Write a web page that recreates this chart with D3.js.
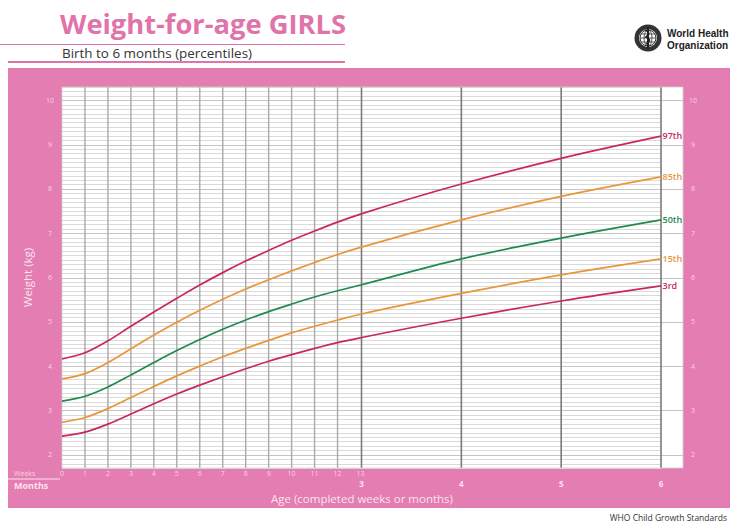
<!DOCTYPE html>
<html>
<head>
<meta charset="utf-8">
<script src="https://cdn.jsdelivr.net/npm/d3@7"></script>
<style>
  html, body { margin: 0; padding: 0; background: #fff; }
  svg { display: block; }
</style>
</head>
<body>
<svg id="chart" width="730" height="524"></svg>
<script>
// ---------------- DATA ----------------
// ages in months (weekly 0..13 weeks, then months 4, 5, 6)
const ages = [0, 0.23, 0.46, 0.69, 0.92, 1.15, 1.38, 1.61, 1.84, 2.07, 2.30, 2.53, 2.76, 2.99, 4, 5, 6];
const p97 = [4.16, 4.30, 4.57, 4.90, 5.22, 5.53, 5.83, 6.11, 6.37, 6.61, 6.84, 7.05, 7.25, 7.43, 8.11, 8.69, 9.19];
const p85 = [3.71, 3.83, 4.08, 4.39, 4.70, 4.99, 5.26, 5.51, 5.74, 5.95, 6.15, 6.34, 6.52, 6.68, 7.30, 7.83, 8.27];
const p50 = [3.21, 3.32, 3.53, 3.80, 4.08, 4.35, 4.60, 4.83, 5.04, 5.23, 5.40, 5.56, 5.70, 5.83, 6.42, 6.89, 7.30];
const p15 = [2.73, 2.84, 3.04, 3.29, 3.54, 3.78, 4.00, 4.21, 4.40, 4.58, 4.75, 4.90, 5.04, 5.17, 5.64, 6.06, 6.42];
const p3  = [2.42, 2.51, 2.69, 2.92, 3.15, 3.37, 3.57, 3.76, 3.94, 4.11, 4.26, 4.40, 4.53, 4.64, 5.08, 5.47, 5.81];
const seriesNames = ["97th", "85th", "50th", "15th", "3rd"];
const weekTicks = [0, 1, 2, 3, 4, 5, 6, 7, 8, 9, 10, 11, 12, 13];
const monthTicks = [3, 4, 5, 6];
const weightTicks = [2, 3, 4, 5, 6, 7, 8, 9, 10];

// ---------------- STYLE ----------------
const PINK = "#e47db1";
const TITLE_PINK = "#e173ab";
const seriesColors = {"97th": "#c8285f", "85th": "#e8963a", "50th": "#1f8a50", "15th": "#e8963a", "3rd": "#c8285f"};
const seriesValues = {"97th": p97, "85th": p85, "50th": p50, "15th": p15, "3rd": p3};

const svg = d3.select("#chart");

const daysPerMonth = 30.4375;
const x = d3.scaleLinear().domain([0, 6.22]).range([62, 683]);
const y = d3.scaleLinear().domain([1.7, 10.3]).range([468, 87]);
const wk = w => w * 7 / daysPerMonth;

// ---------- header ----------
svg.append("text").attr("x", 60).attr("y", 34)
  .attr("font-family", "Open Sans, sans-serif").attr("font-weight", 700)
  .attr("font-size", 26).attr("fill", TITLE_PINK)
  .attr("textLength", 286).attr("lengthAdjust", "spacingAndGlyphs")
  .text("Weight-for-age GIRLS");
svg.append("line").attr("x1", 0).attr("x2", 345).attr("y1", 44.5).attr("y2", 44.5)
  .attr("stroke", TITLE_PINK).attr("stroke-width", 1);
svg.append("text").attr("x", 62).attr("y", 58)
  .attr("font-family", "Open Sans, sans-serif").attr("font-size", 12.5).attr("fill", "#333")
  .attr("textLength", 190).attr("lengthAdjust", "spacingAndGlyphs")
  .text("Birth to 6 months (percentiles)");
svg.append("line").attr("x1", 8).attr("x2", 345).attr("y1", 62).attr("y2", 62)
  .attr("stroke", TITLE_PINK).attr("stroke-width", 2);

// WHO emblem
const logo = svg.append("g").attr("transform", "translate(648,38)");
logo.append("circle").attr("r", 13.5).attr("fill", "#333");
logo.append("circle").attr("r", 9).attr("fill", "#fff");
logo.append("circle").attr("r", 8).attr("fill", "none").attr("stroke", "#333").attr("stroke-width", 1);
logo.append("ellipse").attr("rx", 4).attr("ry", 8).attr("fill", "none").attr("stroke", "#333").attr("stroke-width", 0.8);
logo.append("line").attr("x1", -8).attr("x2", 8).attr("stroke", "#333").attr("stroke-width", 0.8);
logo.append("line").attr("x1", -7).attr("x2", 7).attr("y1", -4).attr("y2", -4).attr("stroke", "#333").attr("stroke-width", 0.8);
logo.append("line").attr("x1", -7).attr("x2", 7).attr("y1", 4).attr("y2", 4).attr("stroke", "#333").attr("stroke-width", 0.8);
logo.append("line").attr("y1", -11).attr("y2", 11).attr("stroke", "#222").attr("stroke-width", 2);
logo.append("path").attr("d", "M-3,-8 Q4,-5 -2,-1 Q5,2 -2,6").attr("fill", "none").attr("stroke", "#222").attr("stroke-width", 1.6);
svg.append("text").attr("x", 667).attr("y", 37)
  .attr("font-family", "Liberation Sans, Arial, sans-serif").attr("font-weight", 700)
  .attr("font-size", 10).attr("fill", "#222").text("World Health");
svg.append("text").attr("x", 667).attr("y", 48.5)
  .attr("font-family", "Liberation Sans, Arial, sans-serif").attr("font-weight", 700)
  .attr("font-size", 10).attr("fill", "#222").text("Organization");

// ---------- pink panel ----------
svg.append("rect").attr("x", 8).attr("y", 68).attr("width", 722).attr("height", 440).attr("fill", PINK);

// white plot area
svg.append("rect").attr("x", x(0)).attr("y", y(10.3)).attr("width", x(6.22) - x(0))
  .attr("height", y(1.7) - y(10.3)).attr("fill", "#fff");

// minor horizontal grid every 0.1 kg
const minor = d3.range(17, 104).map(v => v / 10).filter(v => Math.abs(v - Math.round(v)) > 1e-6);
svg.append("g").selectAll("line").data(minor).join("line")
  .attr("x1", x(0)).attr("x2", x(6))
  .attr("y1", d => Math.round(y(d)) + 0.5).attr("y2", d => Math.round(y(d)) + 0.5)
  .attr("stroke", "#dadada").attr("stroke-width", 1);
// major horizontal grid
svg.append("g").selectAll("line").data(weightTicks).join("line")
  .attr("x1", x(0)).attr("x2", x(6.22))
  .attr("y1", d => Math.round(y(d)) + 0.5).attr("y2", d => Math.round(y(d)) + 0.5)
  .attr("stroke", "#c4c4c4").attr("stroke-width", 1);

// vertical week lines
svg.append("g").selectAll("line").data(weekTicks.filter(w => w > 0 && w < 13)).join("line")
  .attr("x1", d => x(wk(d))).attr("x2", d => x(wk(d)))
  .attr("y1", y(10.3)).attr("y2", y(1.7))
  .attr("stroke", "#a9a9a9").attr("stroke-width", 1.4);
// vertical month lines
svg.append("g").selectAll("line").data(monthTicks).join("line")
  .attr("x1", d => x(d)).attr("x2", d => x(d))
  .attr("y1", y(10.3)).attr("y2", y(1.7))
  .attr("stroke", "#7a7a7a").attr("stroke-width", 1.6);

// plot outline
svg.append("rect").attr("x", x(0)).attr("y", y(10.3)).attr("width", x(6.22) - x(0))
  .attr("height", y(1.7) - y(10.3)).attr("fill", "none").attr("stroke", "#cfcfcf").attr("stroke-width", 0.8);

// ---------- curves ----------
const line = d3.line().x(d => x(d[0])).y(d => y(d[1])).curve(d3.curveCatmullRom.alpha(0.5));
seriesNames.forEach(name => {
  const vals = seriesValues[name];
  const pts = ages.map((a, i) => [a, vals[i]]);
  svg.append("path").datum(pts).attr("d", line)
    .attr("fill", "none").attr("stroke", seriesColors[name]).attr("stroke-width", 1.7);
  svg.append("text").attr("x", x(6) + 1.5).attr("y", y(vals[vals.length - 1]) + 3)
    .attr("font-family", "Open Sans, sans-serif").attr("font-weight", 600)
    .attr("font-size", 9).attr("fill", seriesColors[name])
    .text(name);
});

// ---------- axes labels ----------
const tickFill = "#f8d3e6";
svg.append("g").selectAll("text").data(weightTicks).join("text")
  .attr("x", 50).attr("y", d => y(d) + 2.5).attr("text-anchor", "middle")
  .attr("font-family", "Open Sans, sans-serif").attr("font-size", 7).attr("fill", tickFill)
  .text(d => d);
svg.append("g").selectAll("text").data(weightTicks).join("text")
  .attr("x", 693).attr("y", d => y(d) + 2.5).attr("text-anchor", "middle")
  .attr("font-family", "Open Sans, sans-serif").attr("font-size", 7).attr("fill", tickFill)
  .text(d => d);

svg.append("g").selectAll("text").data(weekTicks).join("text")
  .attr("x", d => x(wk(d))).attr("y", 476).attr("text-anchor", "middle")
  .attr("font-family", "Open Sans, sans-serif").attr("font-size", 7).attr("fill", tickFill)
  .text(d => d);
svg.append("g").selectAll("text").data(monthTicks).join("text")
  .attr("x", d => x(d)).attr("y", 487).attr("text-anchor", "middle")
  .attr("font-family", "Open Sans, sans-serif").attr("font-weight", 700).attr("font-size", 8).attr("fill", "#fbe3ef")
  .text(d => d);

svg.append("text").attr("x", 14).attr("y", 476)
  .attr("font-family", "Open Sans, sans-serif").attr("font-size", 7).attr("fill", tickFill).text("Weeks");
svg.append("line").attr("x1", 8).attr("x2", 60).attr("y1", 479).attr("y2", 479)
  .attr("stroke", "#fbe3ef").attr("stroke-width", 1);
svg.append("text").attr("x", 14).attr("y", 489)
  .attr("font-family", "Open Sans, sans-serif").attr("font-weight", 700).attr("font-size", 9).attr("fill", "#fbe3ef").text("Months");

svg.append("text").attr("x", 362).attr("y", 503).attr("text-anchor", "middle")
  .attr("font-family", "Open Sans, sans-serif").attr("font-size", 11.5).attr("fill", "#fbe3ef")
  .text("Age (completed weeks or months)");

svg.append("text").attr("transform", `translate(32,${(y(10.3) + y(1.7)) / 2}) rotate(-90)`)
  .attr("text-anchor", "middle")
  .attr("font-family", "Open Sans, sans-serif").attr("font-size", 11.5).attr("fill", "#fbe3ef")
  .text("Weight (kg)");

svg.append("text").attr("x", 727).attr("y", 521).attr("text-anchor", "end")
  .attr("font-family", "Open Sans, sans-serif").attr("font-size", 8.5).attr("fill", "#333")
  .text("WHO Child Growth Standards");
</script>
</body>
</html>
